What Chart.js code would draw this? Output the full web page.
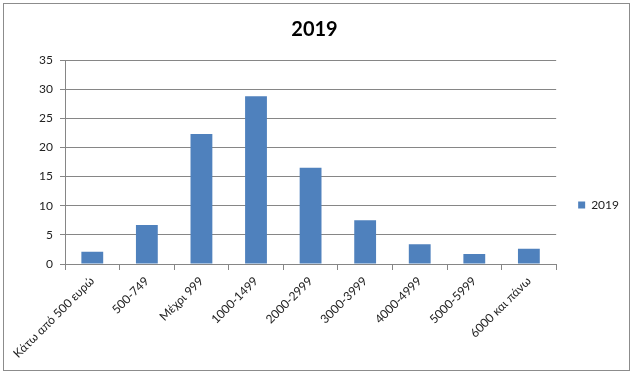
<!DOCTYPE html>
<html>
<head>
<meta charset="utf-8">
<script src="https://cdn.jsdelivr.net/npm/chart.js@4"></script>
<style>
  body { margin: 0; background: #fff; }
  #wrap { position: absolute; left: 0; top: 0; width: 633px; height: 376px; }
  #frame {
    position: absolute; left: 3px; top: 3px;
    width: 625px; height: 366px;
    border: 1px solid #8c8c8c;
    pointer-events: none;
  }
</style>
</head>
<body>
<div id="wrap"><canvas id="chart"></canvas></div>
<div id="frame"></div>
<script>
// Data
const categories = ['Κάτω από 500 ευρώ', '500-749', 'Μέχρι 999', '1000-1499', '2000-2999',
  '3000-3999', '4000-4999', '5000-5999', '6000 και πάνω'];
const values2019 = [2.1, 6.7, 22.3, 28.8, 16.5, 7.5, 3.4, 1.7, 2.6];
const seriesName = '2019';
const yTicks = { min: 0, max: 35, step: 5 };

const FONT = 'Lato, "Open Sans", sans-serif';
const gridGray = '#868686';

const ctx = document.getElementById('chart').getContext('2d');
const chart = new Chart(ctx, {
  type: 'bar',
  data: {
    labels: categories,
    datasets: [{
      label: seriesName,
      data: values2019,
      backgroundColor: '#4f81bd',
      borderWidth: 0,
      barPercentage: 0.8,
      categoryPercentage: 0.5
    }]
  },
  options: {
    responsive: true,
    maintainAspectRatio: false,
    animation: false,
    layout: { padding: { left: 0, right: 4, top: 0, bottom: 6 } },
    scales: {
      x: {
        grid: { display: true, drawOnChartArea: false, drawTicks: true, tickLength: 6, color: gridGray, offset: true },
        border: { color: gridGray },
        ticks: {
          minRotation: 45, maxRotation: 45, autoSkip: false,
          color: '#222', font: { family: FONT, size: 12 }, padding: 4
        },
        afterFit: (scale) => { scale.height = 106; }
      },
      y: {
        min: yTicks.min, max: yTicks.max,
        ticks: { stepSize: yTicks.step, color: '#222', font: { family: FONT, size: 12 }, padding: 7 },
        grid: { color: gridGray, tickLength: 5 },
        border: { color: gridGray },
        afterFit: (scale) => { scale.width = 65; }
      }
    },
    plugins: {
      title: {
        display: true, text: '2019', color: '#000',
        font: { family: FONT, size: 20, weight: 'bold' },
        padding: { top: 18, bottom: 18 }
      },
      legend: {
        position: 'right',
        title: { display: true, text: ' ', font: { size: 10 }, padding: { top: 28, bottom: 0 } },
        labels: {
          boxWidth: 7, boxHeight: 7, color: '#222',
          font: { family: FONT, size: 12 }, padding: 22
        }
      },
      tooltip: { enabled: false }
    }
  }
});
</script>
</body>
</html>
